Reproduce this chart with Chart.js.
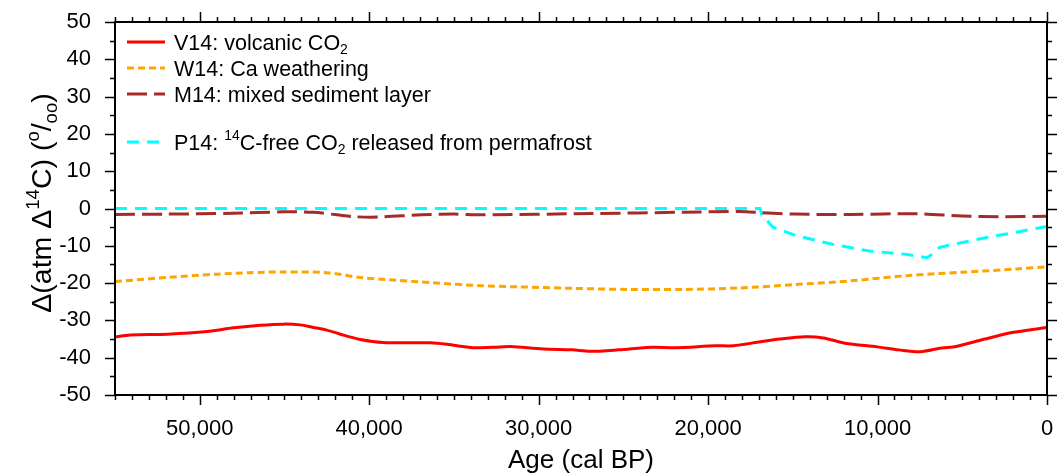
<!DOCTYPE html>
<html>
<head>
<meta charset="utf-8">
<script src="https://cdn.jsdelivr.net/npm/chart.js@4.4.0/dist/chart.umd.min.js"></script>
<style>
  html, body { margin: 0; padding: 0; background: #fff; }
  #wrap { width: 1063px; height: 476px; }
</style>
</head>
<body>
<div id="wrap"><canvas id="chart"></canvas></div>
<script>
// Datos (edad cal BP, Δ en ‰)
const v14Age = [55000, 54100, 51900, 49560, 48000, 46430, 45060, 44070, 43300, 42500, 41700, 40530, 39170, 36400, 35400, 33860, 32270, 31630, 29720, 28030, 26970, 25280, 23370, 21890, 19560, 18500, 17010, 15740, 14260, 13200, 11930, 10020, 8750, 7480, 6210, 5360, 3670, 1970, 0];
const v14Val = [-34.4, -33.9, -33.7, -33.0, -32.0, -31.3, -31.0, -31.2, -31.9, -32.6, -33.7, -35.1, -35.9, -36.0, -36.4, -37.3, -37.1, -37.0, -37.7, -37.9, -38.3, -37.9, -37.2, -37.3, -36.8, -36.8, -35.8, -35.0, -34.4, -34.7, -36.1, -37.1, -37.9, -38.4, -37.4, -37.0, -35.0, -33.2, -31.9];

const w14Age = [55000, 52000, 49000, 47060, 45100, 42500, 40530, 38580, 36220, 33430, 31250, 27970, 24690, 21410, 18140, 14860, 11580, 8300, 5030, 1750, 0];
const w14Val = [-19.6, -18.5, -17.6, -17.2, -17.0, -17.2, -18.5, -19.2, -19.9, -20.7, -21.0, -21.4, -21.7, -21.7, -21.3, -20.4, -19.4, -18.0, -17.1, -16.2, -15.6];

const m14Age = [55000, 52000, 48060, 45100, 43300, 41900, 40900, 39500, 36900, 34970, 33430, 26880, 21410, 18140, 16820, 14860, 11580, 7650, 5030, 2840, 0];
const m14Val = [-1.6, -1.5, -1.3, -0.9, -1.0, -1.7, -2.2, -2.3, -1.7, -1.5, -1.7, -1.35, -1.0, -0.8, -1.1, -1.5, -1.6, -1.4, -2.0, -2.2, -2.1];

const p14Age = [55000, 16930, 16820, 16170, 14860, 12670, 10490, 8300, 7100, 6880, 6340, 3930, 1750, 0];
const p14Val = [0, 0, -1.8, -5.0, -7.2, -9.6, -11.4, -12.3, -13.2, -12.6, -10.4, -8.1, -6.3, -4.8];

const xTicks = [50000, 40000, 30000, 20000, 10000, 0];
const yTicks = [50, 40, 30, 20, 10, 0, -10, -20, -30, -40, -50];

// Etiquetas de leyenda: [texto, 0 normal | 1 superíndice | -1 subíndice]
const legendV14 = [['V14: volcanic CO', 0], ['2', -1]];
const legendW14 = [['W14: Ca weathering', 0]];
const legendM14 = [['M14: mixed sediment layer', 0]];
const legendP14 = [['P14: ', 0], ['14', 1], ['C-free CO', 0], ['2', -1], [' released from permafrost', 0]];
const yTitle = [['\u0394(atm \u0394', 0], ['14', 1], ['C) (', 0], ['o', 1], ['/', 0], ['oo', -1], [')', 0]];

const FONT = '"Liberation Sans", Arial, Helvetica, sans-serif';

function toPoints(ages, vals) {
    return ages.map((a, i) => ({ x: a, y: vals[i] }));
}

// Dibuja texto con sub/superíndices, devuelve el ancho
function richText(ctx, parts, x, y, size, draw) {
    let w = 0;
    parts.forEach(([txt, mode]) => {
        const s = mode === 0 ? size : size * 0.65;
        ctx.font = s + 'px ' + FONT;
        const dy = mode === 1 ? -size * 0.42 : (mode === -1 ? size * 0.22 : 0);
        if (draw) ctx.fillText(txt, x + w, y + dy);
        w += ctx.measureText(txt).width;
    });
    return w;
}

// Sin relleno extra para que el área quede fija
function noPad(s) {
    s.paddingTop = 0; s.paddingBottom = 0; s.paddingLeft = 0; s.paddingRight = 0;
}

const framePlugin = {
    id: 'frame',
    afterDraw(chart) {
        const ctx = chart.ctx;
        const a = chart.chartArea;
        const xs = chart.scales.x, ys = chart.scales.y;
        ctx.save();
        ctx.strokeStyle = '#000';
        ctx.lineWidth = 2;
        ctx.strokeRect(a.left, a.top, a.right - a.left, a.bottom - a.top);
        ctx.lineWidth = 1.5;
        ctx.beginPath();
        for (let v = 0; v <= 55000; v += 1000) {
            const px = Math.round(xs.getPixelForValue(v)) + 0.5;
            const len = v % 10000 === 0 ? 10 : 5;
            ctx.moveTo(px, a.bottom); ctx.lineTo(px, a.bottom + len);
            ctx.moveTo(px, a.top); ctx.lineTo(px, a.top - len);
        }
        for (let v = -50; v <= 50; v += 5) {
            const py = Math.round(ys.getPixelForValue(v)) + 0.5;
            const len = v % 10 === 0 ? 10 : 5;
            ctx.moveTo(a.left, py); ctx.lineTo(a.left - len, py);
            ctx.moveTo(a.right, py); ctx.lineTo(a.right + len, py);
        }
        ctx.stroke();

        // Leyenda dentro del área
        const rows = [42, 68, 94, 142];
        ctx.fillStyle = '#000';
        ctx.textBaseline = 'alphabetic';
        chart.data.datasets.forEach((ds, i) => {
            const y = rows[i];
            ctx.strokeStyle = ds.borderColor;
            ctx.lineWidth = 3;
            ctx.setLineDash(ds.borderDash || []);
            ctx.beginPath();
            ctx.moveTo(127, y); ctx.lineTo(165, y);
            ctx.stroke();
            ctx.setLineDash([]);
            richText(ctx, ds.legendParts, 174, y + 7.5, 21.5, true);
        });

        // Título del eje Y (rotado)
        ctx.translate(51, 203);
        ctx.rotate(-Math.PI / 2);
        const w = richText(ctx, yTitle, 0, 0, 28.5, false);
        richText(ctx, yTitle, -w / 2, 0, 28.5, true);
        ctx.restore();
    }
};

new Chart(document.getElementById('chart'), {
    type: 'line',
    data: {
        datasets: [
            { label: 'V14', legendParts: legendV14, data: toPoints(v14Age, v14Val), borderColor: '#ff0000', borderWidth: 3, tension: 0.3 },
            { label: 'W14', legendParts: legendW14, data: toPoints(w14Age, w14Val), borderColor: '#ffa500', borderWidth: 3, borderDash: [7, 4], tension: 0.3 },
            { label: 'M14', legendParts: legendM14, data: toPoints(m14Age, m14Val), borderColor: '#a52a2a', borderWidth: 3, borderDash: [20, 7], tension: 0.3 },
            { label: 'P14', legendParts: legendP14, data: toPoints(p14Age, p14Val), borderColor: '#00ffff', borderWidth: 3, borderDash: [12, 8], tension: 0 }
        ]
    },
    options: {
        responsive: true,
        maintainAspectRatio: false,
        animation: false,
        layout: { padding: { top: 22, right: 16, left: 0, bottom: 0 } },
        elements: { point: { radius: 0 } },
        scales: {
            x: {
                type: 'linear',
                reverse: true,
                min: 0,
                max: 55000,
                afterFit: s => { s.height = 81; noPad(s); },
                afterBuildTicks: s => { s.ticks = xTicks.map(v => ({ value: v })); },
                ticks: {
                    padding: 13,
                    color: '#000',
                    maxRotation: 0,
                    font: { family: FONT, size: 22 },
                    callback: v => v.toLocaleString('en-US')
                },
                grid: { display: false },
                border: { display: false },
                title: {
                    display: true,
                    text: 'Age (cal BP)',
                    color: '#000',
                    font: { family: FONT, size: 26 },
                    padding: { top: 0, bottom: 0 }
                }
            },
            y: {
                min: -50,
                max: 50,
                afterFit: s => { s.width = 115; noPad(s); },
                afterBuildTicks: s => { s.ticks = yTicks.map(v => ({ value: v })); },
                ticks: {
                    padding: 16,
                    color: '#000',
                    font: { family: FONT, size: 22 }
                },
                grid: { display: false },
                border: { display: false }
            }
        },
        plugins: {
            legend: { display: false },
            tooltip: { enabled: false }
        }
    },
    plugins: [framePlugin]
});
</script>
</body>
</html>
